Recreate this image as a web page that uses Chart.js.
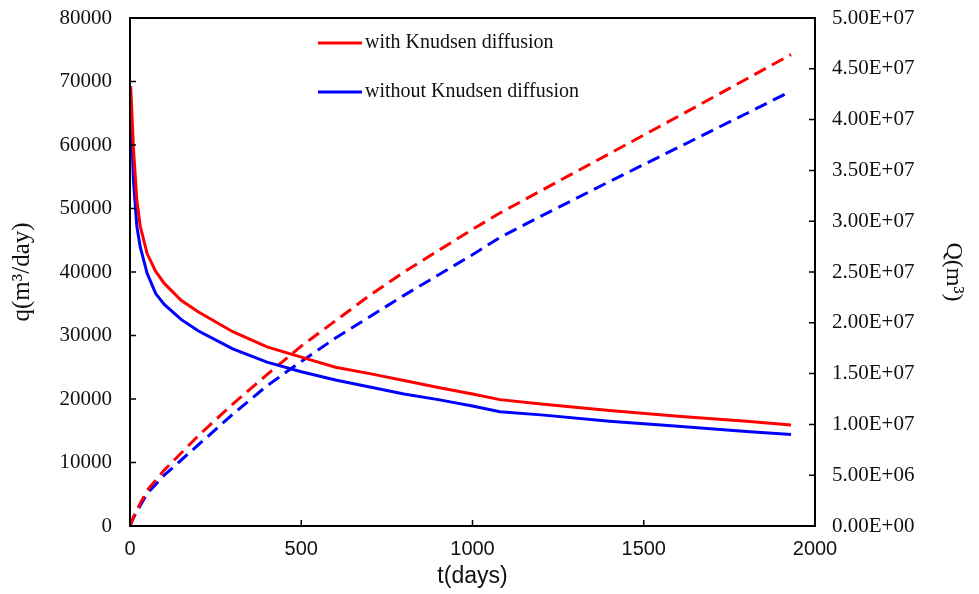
<!DOCTYPE html>
<meta charset="utf-8">
<head>
  <title>Gas rate and cumulative production</title>
  <style>
    html, body {
      margin: 0;
      padding: 0;
      background: #fff;
    }
    .container {
      width: 979px;
      height: 594px;
    }
  </style>
</head>
<body>
  <div class="container">
    <canvas id="chart"></canvas>
  </div>

<script src="https://cdn.jsdelivr.net/npm/chart.js@4/dist/chart.umd.min.js"></script>
<script>
// production rate q (m3/day)
var rateDays = [2, 10, 20, 30, 50, 75, 100, 150, 200, 300, 400, 500, 600, 700, 800, 900, 1000, 1080, 1200, 1400, 1600, 1800, 1930];
var rateWith = [69300, 59500, 51300, 47200, 42900, 40100, 38200, 35500, 33700, 30600, 28200, 26600, 25000, 24000, 22900, 21800, 20800, 19900, 19200, 18200, 17300, 16500, 15900];
var rateWithout = [66000, 54500, 47200, 43900, 39800, 36600, 34900, 32500, 30700, 27900, 25800, 24300, 23000, 21900, 20800, 19900, 18900, 18000, 17500, 16500, 15700, 14900, 14400];

// cumulative production Q (m3)
var cumDays = [0, 10, 25, 50, 100, 200, 300, 400, 500, 600, 700, 800, 900, 1000, 1080, 1200, 1400, 1600, 1800, 1930];
var cumWith = [0, 0.9e6, 1.9e6, 3.5e6, 5.5e6, 8.9e6, 1.2e7, 1.49e7, 1.77e7, 2.02e7, 2.27e7, 2.5e7, 2.71e7, 2.92e7, 3.08e7, 3.3e7, 3.665e7, 4.03e7, 4.4e7, 4.64e7];
var cumWithout = [0, 0.8e6, 1.7e6, 3.2e6, 5.0e6, 8.0e6, 1.1e7, 1.38e7, 1.62e7, 1.85e7, 2.06e7, 2.27e7, 2.47e7, 2.67e7, 2.84e7, 3.05e7, 3.39e7, 3.725e7, 4.06e7, 4.28e7];

var seriesNames = ['with Knudsen diffusion', 'without Knudsen diffusion'];
var RED = '#ff0000';
var BLUE = '#0000ff';
var SERIF = '"Liberation Serif", "Times New Roman", serif';
var SANS = '"Liberation Sans", Arial, sans-serif';

function pairs(xs, ys) {
  var out = [];
  for (var i = 0; i < xs.length; i++) {
    out.push({ x: xs[i], y: ys[i] });
  }
  return out;
}

// 5000000 -> 5.00E+06
function sci(v) {
  var s = Number(v).toExponential(2).toUpperCase();
  var parts = s.split('E');
  var sign = parts[1].charAt(0);
  var digits = parts[1].slice(1);
  if (digits.length < 2) digits = '0' + digits;
  return parts[0] + 'E' + sign + digits;
}

function plain(v) {
  return String(v);
}

// keep the plot box fixed, labels may hang over the edges
function fixWidth(w) {
  return function(s) {
    s.width = w;
    s.paddingTop = 0;
    s.paddingBottom = 0;
  };
}

// frame, inward tick marks and the little legend inside the plot
var framePlugin = {
  id: 'frame',
  afterDraw: function(chart) {
    var ctx = chart.ctx;
    var a = chart.chartArea;
    var sx = chart.scales.x, sy = chart.scales.y, sy2 = chart.scales.y2;
    ctx.save();
    ctx.strokeStyle = '#000';
    ctx.lineWidth = 2;
    ctx.strokeRect(a.left, a.top, a.right - a.left, a.bottom - a.top);

    ctx.lineWidth = 1.5;
    ctx.beginPath();
    sx.ticks.forEach(function(t) {
      var px = sx.getPixelForValue(t.value);
      ctx.moveTo(px, a.bottom);
      ctx.lineTo(px, a.bottom - 6);
    });
    sy.ticks.forEach(function(t) {
      var py = sy.getPixelForValue(t.value);
      ctx.moveTo(a.left, py);
      ctx.lineTo(a.left + 6, py);
    });
    sy2.ticks.forEach(function(t) {
      var py = sy2.getPixelForValue(t.value);
      ctx.moveTo(a.right, py);
      ctx.lineTo(a.right - 6, py);
    });
    ctx.stroke();

    var colors = [RED, BLUE];
    var rows = [43, 92];
    ctx.font = '20px ' + SERIF;
    ctx.textBaseline = 'middle';
    ctx.fillStyle = '#111';
    for (var i = 0; i < seriesNames.length; i++) {
      ctx.strokeStyle = colors[i];
      ctx.lineWidth = 3;
      ctx.beginPath();
      ctx.moveTo(318, rows[i]);
      ctx.lineTo(362, rows[i]);
      ctx.stroke();
      ctx.fillText(seriesNames[i], 365, rows[i]);
    }
    ctx.restore();
  }
};

var chart = new Chart('chart', {
  type: 'line',
  data: {
    datasets: [
      { label: seriesNames[0], data: pairs(rateDays, rateWith), yAxisID: 'y', borderColor: RED, borderWidth: 3 },
      { label: seriesNames[1], data: pairs(rateDays, rateWithout), yAxisID: 'y', borderColor: BLUE, borderWidth: 3 },
      { label: seriesNames[0] + ' Q', data: pairs(cumDays, cumWith), yAxisID: 'y2', borderColor: RED, borderWidth: 3, borderDash: [13, 7] },
      { label: seriesNames[1] + ' Q', data: pairs(cumDays, cumWithout), yAxisID: 'y2', borderColor: BLUE, borderWidth: 3, borderDash: [13, 7] }
    ]
  },
  options: {
    responsive: true,
    maintainAspectRatio: false,
    animation: false,
    layout: { padding: { left: 0, right: 0, top: 18, bottom: 0 } },
    elements: {
      point: { radius: 0 },
      line: { tension: 0, fill: false }
    },
    plugins: {
      legend: { display: false },
      tooltip: { enabled: false }
    },
    scales: {
      x: {
        type: 'linear',
        min: 0,
        max: 2000,
        grid: { display: false, drawTicks: false },
        border: { display: false },
        ticks: { stepSize: 500, padding: 11, maxRotation: 0, color: '#111', font: { family: SANS, size: 20 }, callback: plain },
        title: { display: true, text: 't(days)', color: '#111', font: { family: SANS, size: 23 } },
        afterFit: function(s) {
          s.height = 68;
          s.paddingLeft = 0;
          s.paddingRight = 0;
        }
      },
      y: {
        position: 'left',
        min: 0,
        max: 80000,
        grid: { display: false, drawTicks: false },
        border: { display: false },
        ticks: { stepSize: 10000, padding: 18, color: '#111', font: { family: SERIF, size: 21 }, callback: plain },
        title: { display: true, text: 'q(m³/day)', color: '#111', padding: 7, font: { family: SERIF, size: 25 } },
        afterFit: fixWidth(130)
      },
      y2: {
        position: 'right',
        min: 0,
        max: 50000000,
        grid: { display: false, drawTicks: false },
        border: { display: false },
        ticks: { stepSize: 5000000, padding: 17, color: '#111', font: { family: SERIF, size: 21 }, callback: sci },
        title: { display: true, text: 'Q(m³)', color: '#111', padding: 11, font: { family: SERIF, size: 24 } },
        afterFit: fixWidth(164)
      }
    }
  },
  plugins: [framePlugin]
});
</script>
</body>
</html>
